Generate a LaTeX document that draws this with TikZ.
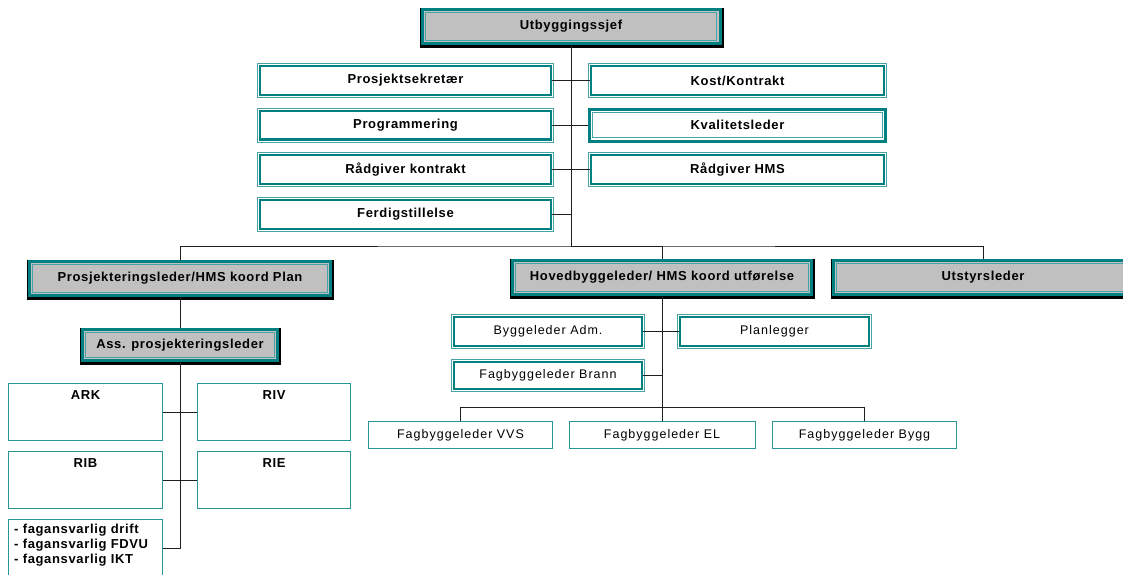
\documentclass[tikz,border=0pt]{standalone}
\usepackage{fontspec}
\newfontfamily\orgfont[LetterSpace=5]{Liberation Sans}
\newfontfamily\orgthin[LetterSpace=8]{Liberation Sans}
\definecolor{tealdk}{RGB}{0,128,128}
\definecolor{tealmid}{RGB}{72,164,164}
\definecolor{tealline}{RGB}{40,150,150}
\definecolor{boxgray}{RGB}{192,192,192}
\definecolor{connline}{RGB}{30,30,30}
\tikzset{
  conn/.style={draw=connline, line width=0.9pt},
  boldtxt/.style={font=\orgfont\bfseries\fontsize{13}{15}\selectfont},
  thintxt/.style={font=\orgthin\fontsize{12.5}{15}\selectfont},
  % grey heading box: thick teal rim, thin inner rim, black shadow
  headbox/.style={draw=tealdk, line width=3pt, fill=boxgray, inner sep=0pt, boldtxt,
    preaction={draw=black, fill=black, line width=6pt, transform canvas={xshift=0.5pt, yshift=-1.5pt}},
    path picture={\draw[tealmid, line width=0.9pt]
      ([shift={(3.2pt,-3.2pt)}]path picture bounding box.north west) rectangle
      ([shift={(-3.2pt,3.2pt)}]path picture bounding box.south east);}},
  % white box: thin outer rim, gap, thick teal rim
  framebox/.style={draw=tealdk, line width=2.4pt, fill=white, inner sep=0pt,
    preaction={draw=tealmid, line width=6.4pt},
    preaction={draw=white, line width=4.4pt}},
  % white box with the thick rim outside and the thin rim inside
  framebox in/.style={draw=tealdk, line width=3pt, fill=white, inner sep=0pt,
    path picture={\draw[tealmid, line width=0.9pt]
      ([shift={(3.2pt,-3.2pt)}]path picture bounding box.north west) rectangle
      ([shift={(-3.2pt,3.2pt)}]path picture bounding box.south east);}},
  % plain white box with a single thin rim
  plainbox/.style={draw=tealline, line width=1pt, fill=white, inner sep=0pt},
}
\begin{document}
\begin{tikzpicture}[x=1pt, y=-1pt]
\clip (0,0) rectangle (1123,574);
\fill[white] (0,0) rectangle (1123,574);

% top level
\node[headbox, minimum width=298pt, minimum height=34pt] (chief) at (571,26.5) {Utbyggingssjef};

% staff functions
\node[framebox, boldtxt, minimum width=290.6pt, minimum height=28.6pt] (sek) at (405.5,80.5) {Prosjektsekret\ae r};
\node[framebox, boldtxt, minimum width=290.6pt, minimum height=28.6pt] (prog) at (405.5,125) {Programmering};
\node[framebox, boldtxt, minimum width=290.6pt, minimum height=28.6pt] (rkon) at (405.5,169.5) {R\aa dgiver kontrakt};
\node[framebox, boldtxt, minimum width=290.6pt, minimum height=28.6pt] (ferd) at (405.5,214.5) {Ferdigstillelse};
\node[framebox, boldtxt, minimum width=292.6pt, minimum height=28.6pt] (kost) at (737.5,80.5) {Kost/Kontrakt};
\node[framebox in, boldtxt, minimum width=296pt, minimum height=32pt] (kval) at (737.5,125) {Kvalitetsleder};
\node[framebox, boldtxt, minimum width=292.6pt, minimum height=28.6pt] (rhms) at (737.5,169.5) {R\aa dgiver HMS};

% second level
\node[headbox, minimum width=301pt, minimum height=34pt] (plan) at (180,278.5) {Prosjekteringsleder/HMS koord Plan};
\node[headbox, minimum width=299pt, minimum height=34pt] (hoved) at (662,277.5) {Hovedbyggeleder/ HMS koord utf\o relse};
\node[headbox, minimum width=299pt, minimum height=34pt] (utst) at (983,277.5) {Utstyrsleder};

% design branch
\node[headbox, minimum width=195pt, minimum height=31pt] (ass) at (180,345) {Ass. prosjekteringsleder};
\node[plainbox, minimum width=154pt, minimum height=57pt] (ark) at (85.5,412) {};
\node[plainbox, minimum width=153pt, minimum height=57pt] (riv) at (274,412) {};
\node[plainbox, minimum width=154pt, minimum height=57pt] (rib) at (85.5,480) {};
\node[plainbox, minimum width=153pt, minimum height=57pt] (rie) at (274,480) {};
\node[plainbox, minimum width=154pt, minimum height=58pt] (fag) at (85.5,548) {};
\node[boldtxt, anchor=north, inner sep=0pt] (arkt) at ([yshift=-7pt]ark.north) {ARK};
\node[boldtxt, anchor=north, inner sep=0pt] (rivt) at ([yshift=-7pt]riv.north) {RIV};
\node[boldtxt, anchor=north, inner sep=0pt] (ribt) at ([yshift=-7pt]rib.north) {RIB};
\node[boldtxt, anchor=north, inner sep=0pt] (riet) at ([yshift=-7pt]rie.north) {RIE};
\node[boldtxt, anchor=north west, inner sep=0pt, align=left] (fagt) at (14,524)
  {- fagansvarlig drift\\- fagansvarlig FDVU\\- fagansvarlig IKT};

% construction branch
\node[framebox, thintxt, minimum width=187.6pt, minimum height=28.6pt] (badm) at (548,331.5) {Byggeleder Adm.};
\node[framebox, thintxt, minimum width=187.6pt, minimum height=27pt] (brann) at (548,375.5) {Fagbyggeleder Brann};
\node[framebox, thintxt, minimum width=188.6pt, minimum height=28.6pt] (planl) at (774.5,331.5) {Planlegger};
\node[plainbox, thintxt, minimum width=184pt, minimum height=27pt] (vvs) at (460.5,435) {Fagbyggeleder VVS};
\node[plainbox, thintxt, minimum width=186pt, minimum height=27pt] (el) at (662,435) {Fagbyggeleder EL};
\node[plainbox, thintxt, minimum width=184pt, minimum height=27pt] (bygg) at (864.5,435) {Fagbyggeleder Bygg};

% junction points
\coordinate (j1) at (571,246);
\coordinate (j2) at (662,407);

% connectors
\draw[conn] (chief.south) -- (j1);
\draw[conn] (sek.east) -- (kost.west);
\draw[conn] (prog.east) -- (kval.west);
\draw[conn] (rkon.east) -- (rhms.west);
\draw[conn] (ferd.east) -- (ferd.east -| j1);
\draw[conn] (plan.north) |- (j1) -| (utst.north);
\draw[conn] (j1) -| (hoved.north);

\draw[conn] (plan.south) -- (ass.north);
\draw[conn] (ass.south) |- (fag.east);
\draw[conn] (ark.east) -- (riv.west);
\draw[conn] (rib.east) -- (rie.west);

\draw[conn] (hoved.south) -- (el.north);
\draw[conn] (badm.east) -- (planl.west);
\draw[conn] (brann.east) -- (brann.east -| j2);
\draw[conn] (vvs.north) |- (j2) -| (bygg.north);
\end{tikzpicture}
\end{document}
